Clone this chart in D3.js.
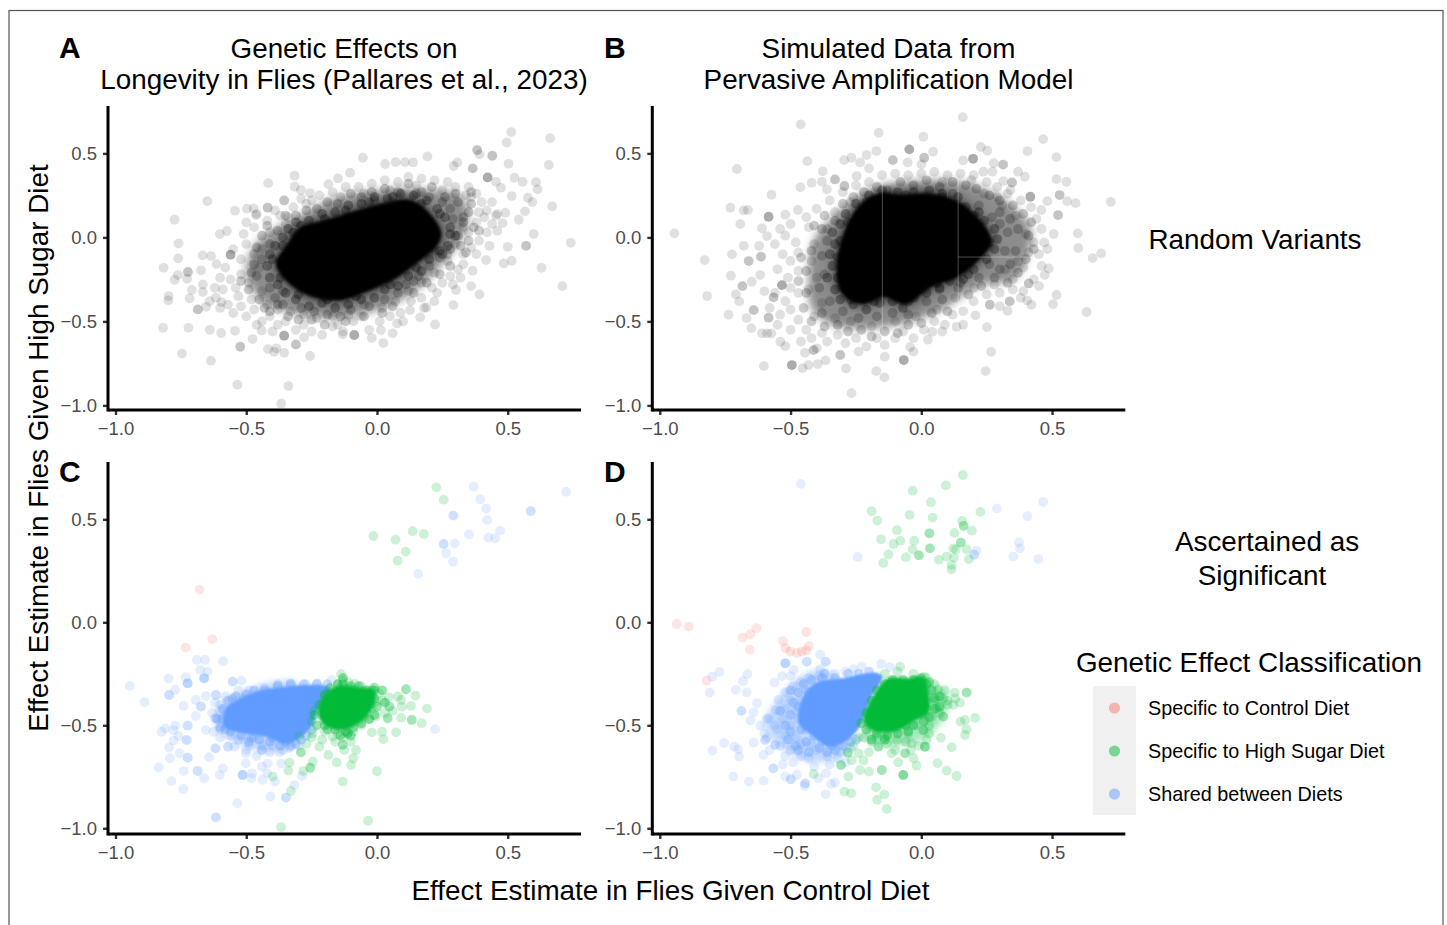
<!DOCTYPE html>
<html><head><meta charset="utf-8">
<style>html,body{margin:0;padding:0;background:#fff}svg{display:block}text{font-family:"Liberation Sans",Arial,sans-serif}</style>
<script src="https://cdn.jsdelivr.net/npm/d3@7"></script></head><body>
<script>
// ---------- values (effect on control diet, effect on high sugar diet) ----------
const xTicks=[-1,-0.5,0,0.5], yTicks=[-1,-0.5,0,0.5];
const classNames=["Specific to Control Diet","Specific to High Sugar Diet","Shared between Diets"];
const titleA=["Genetic Effects on","Longevity in Flies (Pallares et al., 2023)"];
const titleB=["Simulated Data from","Pervasive Amplification Model"];
const rowLabels=[["Random Variants"],["Ascertained as","Significant"]];

// estimated outlines of the saturated regions where points overlap completely
const coreA=[[-.386,-.155],[-.348,-.056],[-.297,.054],[-.195,.103],[-.093,.153],[.022,.202],[.124,.222],[.2,.143],[.245,.024],[.226,-.056],[.149,-.155],[.06,-.254],[-.042,-.323],[-.144,-.373],[-.246,-.353],[-.335,-.274]];
const bandA=[[-.5,-.214],[-.47,-.056],[-.38,.06],[-.28,.14],[-.17,.23],[-.042,.27],[.085,.29],[.213,.28],[.32,.25],[.35,.13],[.32,-.016],[.24,-.175],[.17,-.29],[.06,-.4],[-.068,-.46],[-.195,-.48],[-.348,-.44],[-.44,-.38]];
const coreB=[[-.291,.044],[-.323,-.175],[-.304,-.333],[-.228,-.397],[-.139,-.353],[-.062,-.397],[.039,-.294],[.141,-.234],[.205,-.155],[.268,-.036],[.256,.034],[.205,.133],[.129,.222],[.027,.262],[-.075,.252],[-.164,.262],[-.24,.183]];
const bandB=[[-.43,-.214],[-.41,-.016],[-.34,.12],[-.25,.23],[-.139,.31],[.027,.34],[.154,.33],[.268,.27],[.36,.17],[.42,.044],[.4,-.135],[.35,-.25],[.218,-.29],[.09,-.42],[-.037,-.5],[-.19,-.54],[-.342,-.52],[-.42,-.42]];
const seamsB=[[[-.149,.34],[-.149,-.56]],[[.141,.34],[.141,-.6]],[[.141,-.117],[.434,-.117]]];

const pointsA=[[.513,.627],[.496,.565],[.662,.591],[.657,.431],[.503,.438],[.383,.52],[.383,.52],[.392,.494],[.441,.486],[.441,.486],[.307,.446],[.293,.425],[.366,.411],[.366,.411],[.193,.482],[.138,.446],[.107,.448],[.071,.448],[.031,.437],[-.054,.474],[-.103,.385],[-.149,.351],[-.186,.317],[-.315,.367],[-.315,.302],[-.416,.323],[-.291,.282],[-.256,.264],[-.355,.22],[-.355,.22],[-.649,.216],[-.543,.159],[-.497,.171],[-.472,.173],[-.463,.133],[-.418,.177],[-.418,.177],[-.774,.105],[-.601,.02],[-.574,.038],[-.759,-.036],[-.76,-.125],[-.816,-.181],[-.774,-.252],[-.761,-.224],[-.723,-.206],[-.723,-.206],[-.726,-.246],[-.673,-.196],[-.667,-.107],[-.635,-.111],[-.56,-.103],[-.56,-.103],[-.56,-.103],[-.614,-.159],[-.797,-.349],[-.798,-.375],[-.708,-.313],[-.717,-.363],[-.666,-.28],[-.666,-.325],[-.685,-.429],[-.685,-.429],[-.654,-.413],[-.616,-.359],[-.595,-.385],[-.818,-.538],[-.721,-.538],[-.639,-.55],[-.596,-.569],[-.543,-.556],[-.746,-.692],[-.635,-.734],[-.534,-.877],[-.339,-.885],[-.366,-.99],[-.523,-.651],[-.523,-.651],[-.476,-.605],[-.417,-.665],[-.393,-.681],[-.385,-.66],[-.355,-.687],[-.256,-.706],[-.31,-.637],[-.31,-.637],[-.279,-.595],[-.355,-.585],[-.355,-.585],[-.355,-.585],[-.441,-.554],[-.131,-.577],[-.087,-.581],[-.087,-.581],[-.087,-.581],[-.02,-.599],[.024,-.629],[.015,-.552],[.06,-.571],[.077,-.512],[.165,-.476],[.222,-.518],[.126,-.433],[.189,-.417],[.292,-.403],[.219,-.381],[.392,-.339],[.36,-.29],[.302,-.313],[.319,-.24],[.366,-.198],[.417,-.135],[.485,-.155],[.515,-.139],[.629,-.181],[.709,-.29],[.741,-.032],[.67,.185],[.599,.02],[.57,-.05],[.57,-.05],[.5,-.056],[.542,.105],[.566,.155],[.594,.21],[.614,.286],[.608,.329],[.557,.331],[.526,.355],[.577,.236],[.515,.246],[.474,.296],[.455,.331],[.423,.357],[.423,.357],[.423,.357],[.491,.147],[.455,.129],[.48,.085],
[-.62,-.3],[-.6,-.24],[-.58,-.18],[-.56,-.25],[-.54,-.3],[-.52,-.22],[-.53,-.35],[-.57,-.4],[-.6,-.42],[-.55,-.45],[-.5,-.47],[-.47,-.43],[-.44,-.5],[-.41,-.47],[-.38,-.52],[-.35,-.5],[-.31,-.55],[-.28,-.52],[-.25,-.56],[-.21,-.58],[-.17,-.53],[-.13,-.56],[-.09,-.5],[-.06,-.47],[-.03,-.55],[.01,-.5],[.05,-.47],[.09,-.45],[.13,-.38],[.17,-.36],[.21,-.3],[.25,-.27],[.28,-.23],[.31,-.19],[.27,-.14],[.33,-.1],[.36,-.06],[.39,-.02],[.42,.03],[.44,.08],[.46,.14],[.42,.16],[.4,.21],[.38,.26],[.35,.3],[.3,.3],[.27,.33],[.22,.34],[.17,.35],[.12,.36],[.08,.33],[.03,.34],[-.02,.32],[-.07,.3],[-.12,.3],[-.17,.27],[-.22,.25],[-.27,.2],[-.32,.18],[-.37,.13],[-.42,.1],[-.47,.06],[-.51,.02],[-.5,-.04],[-.55,-.07],[-.47,-.1],[-.52,-.13],[-.45,-.18],[-.49,-.27],[-.44,-.32],[-.48,-.37],[-.42,-.4],[-.38,-.43],[-.33,-.44],[-.28,-.46],[-.23,-.48],[-.17,-.47],[-.11,-.46],[-.05,-.4],[.02,-.42],[.07,-.38],[.12,-.32],[.17,-.27],[.22,-.21],[.27,-.1],[.3,-.04],[.35,.03],[.38,.09],[.39,.15],[.34,.25],[.25,.28],[.15,.31],[.05,.28],[-.05,.26],[-.14,.24],[-.25,.22],[-.35,.08],[-.41,.03],[-.44,-.07],[.33,.06],[.36,.24],[.41,.12],[.44,.21],[.46,.04],[.43,-.05],[.38,-.1],[.33,-.16],[.29,-.28],[.23,-.33],[.18,-.42],[.1,-.5],[-.15,-.52],[-.4,-.56],[-.46,-.52],[-.52,-.41],[-.59,-.31],[-.64,-.38],[-.5,.09],[-.46,.14],[-.39,.16],[-.34,.12],[-.29,.23]];
// places in the band where several points stack into a darker clump
const clumpsA=[[-.52,-.26],[-.49,-.31],[-.46,-.23],[-.44,-.13],[-.47,-.16],[-.41,-.3],[-.45,-.37],[-.39,-.36],[-.36,-.4],[-.41,-.44],[-.34,-.47],[-.29,-.42],[-.3,-.49],[-.24,-.44],[-.2,-.52],[-.19,-.46],[-.14,-.47],[-.1,-.43],[-.12,-.5],[-.05,-.47],[-.03,-.41],[.02,-.45],[.03,-.37],[.08,-.33],[.06,-.41],[.11,-.28],[.14,-.33],[.16,-.23],[.19,-.27],[.2,-.17],[.24,-.22],[.24,-.12],[.28,-.17],[.28,-.07],[.32,-.05],[.31,.01],[.35,-.02],[.33,.09],[.37,.06],[.35,.15],[.31,.21],[.36,.2],[.3,.26],[.26,.24],[.21,.3],[.17,.27],[.12,.32],[.08,.27],[.03,.29],[-.02,.27],[-.06,.24],[-.1,.26],[-.15,.2],[-.19,.21],[-.23,.17],[-.27,.16],[-.31,.13],[-.35,.13],[-.38,.04],[-.42,.07],[-.44,.01],[-.41,-.04],[-.46,-.06],[-.48,-.21],[.36,.27],[.33,.12],[.29,.11],[.28,.17],[.25,.21],[.2,.24],[.15,.26],[-.01,.22],[-.38,-.4],[-.43,-.42],[-.36,-.32],[-.25,-.49],[.14,-.26],[.22,-.08],[.34,-.09],[.39,.04]];
const edgeA=[[-.42,-.17],[-.41,-.1],[-.39,-.05],[-.36,0],[-.34,.05],[-.31,.09],[-.26,.1],[-.21,.14],[-.16,.15],[-.11,.19],[-.06,.2],[-.01,.24],[.04,.23],[.09,.26],[.14,.25],[.19,.22],[.23,.17],[.26,.12],[.28,.06],[.3,.01],[.27,-.05],[.25,-.1],[.2,-.13],[.17,-.2],[.12,-.23],[.08,-.29],[.03,-.31],[-.01,-.36],[-.06,-.37],[-.11,-.4],[-.16,-.42],[-.21,-.39],[-.26,-.41],[-.31,-.37],[-.35,-.33],[-.38,-.28],[-.41,-.24],[-.4,-.13],[-.36,-.05],[-.32,.03],[-.29,.07],[-.2,.11],[-.12,.16],[-.03,.21],[.06,.24],[.17,.2],[.24,.14],[.28,.02],[.24,-.08],[.15,-.18],[.05,-.28],[-.08,-.35],[-.19,-.37],[-.3,-.34],[-.37,-.24]];

const pointsB=[[-.944,.024],[-.828,-.135],[-.819,-.349],[-.737,-.46],[-.728,-.228],[-.724,-.101],[-.692,.079],[-.73,.177],[-.705,.407],[-.679,.161],[-.663,.163],[-.573,.254],[-.584,.123],[-.584,.123],[-.584,.123],[-.461,.673],[-.436,.454],[-.462,.298],[-.377,.393],[-.33,.345],[-.33,.345],[-.295,.46],[-.267,.474],[-.234,.446],[-.209,.49],[-.172,.514],[-.163,.623],[-.109,.46],[-.109,.46],[.008,.599],[.045,.51],[-.046,.524],[-.046,.524],[-.046,.524],[-.052,.446],[.011,.474],[.011,.474],[.001,.435],[.159,.716],[.16,.458],[.198,.468],[.198,.468],[.198,.468],[.228,.538],[.252,.516],[.277,.442],[.313,.433],[.313,.433],[.466,.585],[.406,.514],[.517,.478],[.517,.347],[.555,.331],[.529,.252],[.529,.252],[.59,.204],[.558,.216],[.725,.212],[.598,.024],[.6,-.063],[.655,-.123],[.688,-.095],[.632,-.444],[.517,-.343],[.504,-.397],[.405,-.375],[.421,-.401],[.338,-.381],[.338,-.381],[.33,-.437],[.262,-.401],[.262,-.401],[.251,-.534],[.267,-.681],[.246,-.796],[.207,-.464],[.135,-.532],[.025,-.609],[.042,-.562],[-.043,-.653],[-.067,-.73],[-.067,-.73],[-.067,-.73],[-.141,-.833],[-.172,-.796],[-.267,-.927],[-.288,-.78],[-.31,-.7],[-.31,-.7],[-.366,-.732],[-.396,-.754],[-.431,-.76],[-.454,-.778],[-.495,-.76],[-.495,-.76],[-.495,-.76],[-.602,-.766],[-.412,-.671],[-.412,-.671],[-.445,-.687],[-.52,-.647],[-.539,-.621],[-.609,-.571],[-.59,-.571],[-.574,-.571],[-.65,-.54],[-.668,-.48],[-.584,-.478],[-.584,-.478],[-.641,-.433],[-.641,-.433],[-.684,-.29],[-.684,-.29],[-.648,-.264],[-.709,-.339],[-.696,-.381],[-.679,-.05],[-.613,-.115],[-.613,-.115],[-.66,-.141],[-.66,-.141],[-.616,-.224],[-.533,-.284],[-.533,-.284],[-.533,-.284],[-.565,-.357],[-.565,-.357],[-.609,.054],[-.59,.008],[-.52,.135],[-.472,.163],[-.419,.325],[-.38,.331],[-.361,.286],[-.294,.306],[-.294,.306],[-.247,.365],[-.2,.411],[.482,.216],[.459,.163],[.523,.133],[.523,.133],[.506,.02],[.482,-.069],[.487,-.185],[.472,-.224],[.411,-.274],[.411,-.274],[.417,.242],[.417,.242],[.417,.242],[.347,.327],[.347,.327],[.341,.282],[.396,.361],[.37,.391],[.237,.391],[.272,.391],[.192,.341],[.314,.335],
[-.56,-.04],[-.54,.05],[-.52,.01],[-.5,.08],[-.48,-.03],[-.53,-.1],[-.5,-.14],[-.47,-.09],[-.55,-.19],[-.51,-.24],[-.47,-.2],[-.5,-.3],[-.56,-.33],[-.52,-.38],[-.47,-.33],[-.5,-.43],[-.54,-.46],[-.47,-.49],[-.5,-.55],[-.44,-.55],[-.42,-.6],[-.38,-.57],[-.36,-.62],[-.32,-.58],[-.29,-.63],[-.25,-.6],[-.21,-.65],[-.17,-.6],[-.14,-.64],[-.1,-.6],[-.07,-.56],[-.03,-.6],[.01,-.55],[.05,-.5],[.09,-.52],[.12,-.46],[.16,-.44],[.2,-.38],[.25,-.34],[.3,-.33],[.35,-.31],[.39,-.32],[.43,-.25],[.46,-.17],[.45,-.1],[.47,-.03],[.46,.05],[.44,.11],[.42,.18],[.38,.22],[.33,.26],[.29,.3],[.25,.33],[.2,.37],[.15,.38],[.1,.37],[.05,.39],[0,.38],[-.05,.37],[-.1,.38],[-.15,.37],[-.2,.33],[-.25,.31],[-.3,.27],[-.35,.22],[-.4,.17],[-.44,.12],[-.43,.06],[-.41,-.04],[-.42,-.14],[-.4,-.24],[-.43,-.31],[-.38,-.39],[-.41,-.47],[-.33,-.48],[-.27,-.5],[-.19,-.53],[-.1,-.5],[-.02,-.47],[.06,-.43],[.13,-.36],[.2,-.3],[.28,-.28],[.35,-.25],[.39,-.18],[.41,-.09],[.37,-.14],[.32,-.19],[.4,.02],[.36,.13],[.31,.19],[.24,.26],[.43,-.03],[.29,.24],[-.36,.05],[-.33,.15],[-.27,.21],[.08,.33],[-.62,-.05],[-.6,-.32],[-.58,-.42],[-.55,-.52],[-.46,-.62],[-.4,-.66],[-.24,-.68],[-.14,-.71],[-.03,-.68],[.08,-.56],[.16,-.52],[.3,-.41],[.45,-.29],[.38,-.36]];
const clumpsB=[[-.46,-.12],[-.44,-.2],[-.47,-.26],[-.44,-.33],[-.45,-.42],[-.42,-.5],[-.38,-.45],[-.37,-.53],[-.32,-.52],[-.28,-.56],[-.23,-.55],[-.19,-.59],[-.14,-.56],[-.09,-.57],[-.05,-.52],[0,-.51],[.04,-.45],[.1,-.44],[.08,-.37],[.14,-.3],[.18,-.34],[.23,-.29],[.28,-.24],[.33,-.27],[.37,-.21],[.4,-.13],[.36,-.08],[.43,-.07],[.41,.01],[.37,.05],[.42,.09],[.39,.14],[.34,.11],[.35,.19],[.3,.15],[.3,.22],[.26,.25],[.22,.19],[.21,.29],[.17,.31],[.12,.26],[.12,.33],[.07,.3],[.02,.34],[-.03,.31],[-.08,.33],[-.13,.28],[-.17,.3],[-.22,.27],[-.26,.24],[-.3,.2],[-.33,.1],[-.37,.13],[-.38,.05],[-.41,.07],[-.36,-.02],[-.42,-.08],[-.38,-.11],[-.37,-.22],[-.39,-.3],[-.35,-.38],[-.3,-.44],[-.24,-.48],[-.17,-.47],[-.11,-.45],[-.05,-.46],[.02,-.38],[.07,-.31],[.15,-.27],[.22,-.24],[.3,-.19],[.34,-.16],[.26,-.16],[.32,-.08],[.33,.03],[.3,.08],[.27,.12]];
const edgeB=[[-.34,.03],[-.33,-.04],[-.35,-.1],[-.34,-.17],[-.36,-.24],[-.33,-.31],[-.31,-.37],[-.26,-.4],[-.21,-.43],[-.16,-.39],[-.11,-.38],[-.07,-.42],[-.03,-.36],[.02,-.33],[.07,-.3],[.11,-.26],[.16,-.25],[.2,-.19],[.25,-.13],[.28,-.07],[.29,-.01],[.28,.05],[.24,.1],[.22,.15],[.17,.18],[.14,.24],[.08,.26],[.03,.28],[-.03,.27],[-.09,.27],[-.15,.28],[-.2,.25],[-.25,.2],[-.29,.14],[-.31,.08],[-.31,-.02],[-.32,-.12],[-.32,-.24],[-.27,-.37],[-.18,-.38],[-.05,-.38],[.06,-.27],[.18,-.22],[.26,-.03],[.2,.13],[.08,.24],[-.06,.25],[-.21,.21],[-.28,.09]];

const sharedC=[[.37,.659],[.395,.597],[.417,.552],[.421,.497],[.723,.634],[.588,.54],[.588,.54],[.292,.518],[.292,.518],[.471,.445],[.452,.408],[.426,.411],[.352,.427],[.297,.383],[.255,.38],[.255,.38],[.264,.335],[.291,.294],[.158,.235],[-.945,-.309],[-.889,-.388],[-.689,-.183],[-.658,-.183],[-.589,-.189],[-.676,-.231],[-.648,-.239],[-.661,-.272],[-.661,-.272],[-.661,-.272],[-.797,-.273],[-.731,-.267],[-.724,-.296],[-.724,-.296],[-.724,-.296],[-.772,-.328],[-.795,-.353],[-.795,-.353],[-.693,-.377],[-.654,-.358],[-.74,-.406],[-.673,-.409],[-.673,-.409],[-.693,-.455],[-.724,-.502],[-.724,-.502],[-.772,-.502],[-.81,-.515],[-.824,-.531],[-.779,-.523],[-.759,-.552],[-.728,-.571],[-.728,-.571],[-.779,-.574],[-.795,-.608],[-.755,-.636],[-.724,-.657],[-.724,-.657],[-.792,-.66],[-.642,-.655],[-.835,-.704],[-.739,-.722],[-.686,-.722],[-.686,-.722],[-.786,-.77],[-.741,-.809],[-.661,-.757],[-.589,-.709],[-.601,-.741],[-.534,-.879],[-.616,-.947],[-.616,-.947],[-.408,-.846],[-.348,-.851],[-.348,-.851],[-.316,-.79],[-.514,-.741],[-.514,-.741],[-.514,-.741],[-.48,-.757],[-.438,-.765],[-.39,-.773],[-.287,-.746],[.222,-.519],[-.173,-.28],[-.552,-.288],[-.552,-.288],[-.518,-.283],[-.616,-.353],[-.616,-.353],[-.552,-.37],[-.552,-.37],
[-.618,-.466],[-.618,-.466],[-.625,-.531],[-.655,-.523],[-.618,-.612],[-.618,-.612],[-.57,-.604],[-.57,-.604],[-.545,-.604],[-.489,-.596],[-.502,-.636],[-.502,-.685],[-.478,-.733],[-.42,-.733],[-.418,-.686],[-.366,-.686],[-.372,-.63],[-.41,-.63],[-.335,-.61],[-.62,-.39],[-.63,-.44],[-.6,-.43],[-.6,-.56],[-.6,-.52],[-.56,-.55],[-.53,-.57],[-.47,-.56],[-.44,-.6],[-.4,-.6],[-.36,-.62],[-.3,-.6],[-.5,-.62],[-.46,-.65],[-.44,-.7],[-.53,-.33],[-.49,-.33],[-.43,-.32],[-.38,-.3],[-.33,-.295],[-.27,-.3],[-.23,-.295],[-.58,-.36],[-.6,-.4]];
const edgeSharedC=[[-.61,-.47],[-.59,-.42],[-.57,-.38],[-.54,-.36],[-.5,-.35],[-.47,-.33],[-.43,-.33],[-.38,-.31],[-.33,-.3],[-.28,-.3],[-.23,-.3],[-.19,-.3],[-.6,-.51],[-.56,-.53],[-.52,-.55],[-.48,-.56],[-.45,-.57],[-.41,-.58],[-.37,-.6],[-.33,-.6],[-.29,-.57],[-.25,-.52],[-.59,-.47],[-.57,-.49],[-.55,-.42],[-.51,-.37],[-.49,-.58],[-.44,-.62],[-.4,-.56],[-.35,-.58],[-.31,-.59],[-.27,-.55],[-.58,-.52]];
const highSugarC=[[.227,.655],[.255,.595],[-.014,.419],[.071,.401],[.136,.442],[.179,.429],[.11,.343],[.079,.299],[-.138,-.252],[-.131,-.283],[-.085,-.299],[-.01,-.317],[-.01,-.317],[.045,-.364],[.111,-.325],[.111,-.325],[.147,-.356],[.092,-.377],[.047,-.409],[.047,-.409],[.13,-.406],[.191,-.419],[.092,-.463],[.133,-.474],[.133,-.474],[.171,-.49],[.041,-.466],[.041,-.466],[.073,-.534],[-.02,-.534],[.019,-.531],[.024,-.568],[-.08,-.62],[-.091,-.66],[-.099,-.693],[-.154,-.68],[0,-.723],[-.131,-.773],[-.034,-.963],[-.367,-.994],[-.329,-.819],[-.399,-.749],[-.339,-.72],[-.335,-.681],[-.246,-.676],[-.255,-.706],[-.255,-.706],[-.282,-.722],[-.291,-.631],[-.291,-.631],[-.186,-.644],[-.221,-.604],[-.125,-.62],[-.131,-.595],[-.131,-.595],[-.112,-.539],[-.112,-.539],[-.112,-.539],[-.17,-.555],[-.246,-.539],[-.297,-.555],[-.004,-.458],[-.05,-.458],[.009,-.345],[-.003,-.385],[.08,-.36],[.06,-.43],[.095,-.41],[.03,-.44],[.02,-.38],[-.02,-.42],[-.02,-.33],[-.06,-.31],[-.11,-.29],[-.15,-.3],[-.2,-.36],[-.24,-.43],[-.25,-.48],[-.2,-.53],[-.15,-.54],[-.09,-.53],[-.06,-.5],[-.03,-.47],[-.16,-.58],[-.21,-.57],[-.25,-.56],[-.27,-.59],[-.1,-.58],[-.13,-.56]];
const edgeSugarC=[[-.2,-.35],[-.18,-.32],[-.15,-.3],[-.13,-.3],[-.1,-.31],[-.07,-.31],[-.04,-.33],[-.01,-.33],[-.01,-.37],[0,-.41],[-.01,-.45],[-.03,-.47],[-.06,-.49],[-.09,-.51],[-.12,-.53],[-.16,-.52],[-.19,-.52],[-.23,-.5],[-.24,-.45],[-.22,-.4],[-.13,-.27],[.02,-.33],[.03,-.39],[-.2,-.5],[-.1,-.55],[-.14,-.55]];
const controlC=[[-.679,.159],[-.63,-.083],[-.732,-.123]];
const coreSharedC=[[-.584,-.506],[-.578,-.417],[-.514,-.364],[-.463,-.337],[-.348,-.312],[-.195,-.309],[-.176,-.328],[-.227,-.426],[-.246,-.498],[-.297,-.563],[-.348,-.591],[-.425,-.555],[-.514,-.539]];
const coreHighSugarC=[[-.227,-.434],[-.195,-.345],[-.144,-.305],[-.068,-.315],[-.01,-.33],[-.01,-.4],[-.04,-.46],[-.08,-.5],[-.131,-.525],[-.2,-.5]];

const sharedD=[[-.461,.672],[.466,.584],[.289,.553],[.406,.515],[-.243,.317],[.211,.348],[.202,.328],[.202,.328],[.373,.388],[.377,.359],[.352,.319],[.447,.307],[-.772,-.241],[-.8,-.264],[-.809,-.341],[-.665,-.252],[-.682,-.286],[-.709,-.328],[-.668,-.34],[-.628,-.393],[-.641,-.437],[-.688,-.43],[-.688,-.43],[-.653,-.477],[-.616,-.502],[-.59,-.471],[-.754,-.586],[-.799,-.623],[-.715,-.604],[-.7,-.617],[-.697,-.652],[-.641,-.584],[-.603,-.644],[-.597,-.571],[-.597,-.571],[-.559,-.595],[-.559,-.595],[-.566,-.709],[-.566,-.709],[-.719,-.749],[-.659,-.773],[-.603,-.769],[-.52,-.749],[-.499,-.762],[-.499,-.762],[-.476,-.741],[-.444,-.782],[-.444,-.782],[-.446,-.795],[-.393,-.757],[-.365,-.733],[-.33,-.778],[-.345,-.785],[-.365,-.835],[-.387,-.157],[-.438,-.191],[-.438,-.191],[-.366,-.191],[-.366,-.191],[-.387,-.227],[-.52,-.199],[-.52,-.199],[-.52,-.199],[-.488,-.231],[-.533,-.261],[-.562,-.293],[-.26,-.228],[-.228,-.215],[-.154,-.202],[-.12,-.218],[-.546,-.377],[-.556,-.426],[-.584,-.466],[-.5,-.26],[-.49,-.31],[-.52,-.34],[-.5,-.38],[-.52,-.42],[-.48,-.43],[-.53,-.47],[-.5,-.5],[-.56,-.5],[-.52,-.55],[-.48,-.56],[-.54,-.6],[-.5,-.62],[-.46,-.59],[-.46,-.65],[-.49,-.68],[-.43,-.66],[-.4,-.62],[-.36,-.65],[-.35,-.69],[-.32,-.66],[-.41,-.7],[-.46,-.29],[-.43,-.27],[-.39,-.26],[-.33,-.25],[-.29,-.24],[-.44,-.33],[-.46,-.38],[-.27,-.61],[-.31,-.63],[-.42,-.59],[-.44,-.52],[-.6,-.54],[-.58,-.62],[-.55,-.52],[-.52,-.65],[-.38,-.58],[-.47,-.47],[-.43,-.43],[-.59,-.56],[-.53,-.69],[-.29,-.68]];
const edgeSharedD=[[-.5,-.45],[-.49,-.39],[-.47,-.34],[-.45,-.3],[-.42,-.28],[-.38,-.27],[-.33,-.27],[-.28,-.25],[-.24,-.25],[-.2,-.24],[-.52,-.5],[-.51,-.57],[-.48,-.6],[-.44,-.58],[-.43,-.63],[-.39,-.61],[-.36,-.63],[-.33,-.62],[-.3,-.6],[-.27,-.58],[-.46,-.52],[-.47,-.41],[-.43,-.34],[-.41,-.55],[-.54,-.43],[-.5,-.53],[-.47,-.62],[-.34,-.6],[-.5,-.33],[-.37,-.25],[-.25,-.57]];
const highSugarD=[[.159,.715],[.094,.665],[-.033,.639],[.037,.583],[-.19,.539],[-.168,.494],[-.045,.521],[.043,.508],[.226,.536],[.156,.492],[.162,.468],[.162,.468],[.193,.445],[.127,.434],[.031,.432],[.031,.432],[-.093,.447],[-.154,.403],[-.08,.396],[-.106,.38],[-.027,.396],[.151,.387],[.151,.387],[-.033,.354],[.033,.359],[.033,.359],[.122,.359],[.132,.354],[.173,.354],[-.126,.33],[-.059,.316],[-.009,.325],[-.009,.325],[.067,.304],[.097,.319],[.125,.314],[.182,.307],[-.145,.288],[.116,.278],[.115,.257],[-.081,-.215],[.011,-.264],[.065,-.328],[.128,-.341],[.173,-.341],[.173,-.341],[.148,-.39],[.122,-.401],[.084,-.369],[.059,-.417],[.084,-.458],[.084,-.458],[.15,-.482],[.167,-.474],[.206,-.464],[.173,-.519],[.167,-.547],[.075,-.561],[.008,-.524],[.008,-.524],[.014,-.604],[.014,-.604],[.014,-.604],[.116,-.607],[.062,-.684],[.097,-.72],[.135,-.746],[-.018,-.696],[-.03,-.66],[-.062,-.636],[-.062,-.636],[-.069,-.741],[-.069,-.741],[-.069,-.741],[-.088,-.68],[-.113,-.636],[-.151,-.717],[-.151,-.717],[-.2,-.725],[-.234,-.717],[-.221,-.67],[-.266,-.67],[-.307,-.693],[-.307,-.693],[-.279,-.749],[-.294,-.822],[-.268,-.83],[-.173,-.801],[-.141,-.835],[-.169,-.862],[-.132,-.906],[-.412,-.736],[-.164,-.604],[-.164,-.604],[-.24,-.636],[-.281,-.633],[-.281,-.633],[-.037,-.587],[-.094,-.571],[-.14,-.56],[-.19,-.58],[-.22,-.56],[-.1,-.62],[-.05,-.54],[.03,-.5],[.05,-.38],[.09,-.33],[.05,-.3],[.02,-.27],[-.03,-.25],[-.09,-.24],[-.14,-.25],[.04,-.46],[.1,-.4],[.07,-.44],[-.02,-.5],[-.06,-.58],[-.13,-.59],[-.17,-.56],[-.2,-.63],[-.26,-.6],[-.24,-.56],[.1,-.38],[.13,-.37],[.03,-.54],[.02,-.57],[-.01,-.6],[-.04,-.62]];
const edgeSugarD=[[-.21,-.44],[-.19,-.38],[-.17,-.33],[-.14,-.3],[-.11,-.28],[-.07,-.28],[-.03,-.28],[0,-.27],[.02,-.3],[.04,-.33],[.05,-.37],[.05,-.42],[.03,-.46],[.01,-.48],[-.03,-.5],[-.06,-.5],[-.09,-.54],[-.13,-.55],[-.17,-.54],[-.21,-.52],[-.23,-.49],[.07,-.36],[.07,-.41],[.03,-.29],[-.14,-.57],[-.05,-.53],[-.19,-.57]];
const controlD=[[-.935,-.008],[-.889,-.021],[-.631,-.029],[-.654,-.058],[-.684,-.074],[-.656,-.134],[-.529,-.091],[-.44,-.047],[-.43,-.115],[-.519,-.126],[-.501,-.142],[-.476,-.149],[-.457,-.142],[-.44,-.136],[-.821,-.283]];
const coreSharedD=[[-.469,-.49],[-.457,-.377],[-.406,-.296],[-.304,-.272],[-.177,-.244],[-.149,-.264],[-.19,-.361],[-.215,-.442],[-.24,-.515],[-.291,-.579],[-.355,-.604],[-.419,-.547]];
const coreHighSugarD=[[-.221,-.474],[-.177,-.345],[-.126,-.272],[-.05,-.272],[.008,-.264],[.029,-.345],[.027,-.442],[-.031,-.482],[-.101,-.531],[-.19,-.523]];
// estimated outlines of the partly overlapping zones around the solid regions
const bandSharedC=[[-.62,-.5],[-.6,-.4],[-.5,-.33],[-.4,-.29],[-.3,-.3],[-.3,-.58],[-.4,-.63],[-.55,-.58]];
const bandSharedD=[[-.6,-.5],[-.54,-.36],[-.47,-.27],[-.38,-.23],[-.3,-.3],[-.28,-.62],[-.38,-.68],[-.5,-.64]];
const bandSugarD=[[-.22,-.56],[-.1,-.6],[.03,-.55],[.1,-.42],[.09,-.33],[.02,-.3],[-.05,-.4],[-.2,-.45]];

// ---------- layout ----------
const W=1447,H=925;
const colorShared="#619CFF",colorSugar="#00BA38",colorControl="#F8766D";
const svg=d3.select("body").append("svg").attr("width",W).attr("height",H);
svg.append("rect").attr("x",9).attr("y",10.5).attr("width",1434).attr("height",H).attr("fill","none").attr("stroke","#555").attr("stroke-width",1.2);
const defs=svg.append("defs");
[["b2",1.8],["b4",4],["b7",7],["b1",.8],["b3",3]].forEach(([id,s])=>defs.append("filter").attr("id",id).attr("x","-20%").attr("y","-20%").attr("width","140%").attr("height","140%").append("feGaussianBlur").attr("stdDeviation",s));

const panels=[
 {id:"A",x0:377,top:106,bottom:410,y0:237.4,yk:168},
 {id:"B",x0:921.3,top:106,bottom:410,y0:237.4,yk:168},
 {id:"C",x0:377,top:462,bottom:834,y0:622.3,yk:206},
 {id:"D",x0:921.3,top:462,bottom:834,y0:622.3,yk:206}];
const XK=261.5;
function setup(p){
 const x=d3.scaleLinear().domain([-1,0.5]).range([p.x0-XK,p.x0+XK*0.5]);
 const y=d3.scaleLinear().domain([-1,0.5]).range([p.y0+p.yk,p.y0-p.yk*0.5]);
 const left=p.x0-269, right=p.x0+204;
 const g=svg.append("g");
 return {x,y,g,left,right,p};
}
function dots(c,data,col,op,r){
 c.g.append("g").selectAll("circle").data(data).join("circle")
  .attr("cx",d=>c.x(d[0])).attr("cy",d=>c.y(d[1])).attr("r",r||4.9).attr("fill",col).attr("fill-opacity",op);
}
function region(c,data,col,op,filter){
 c.g.append("path").attr("d",d3.line().x(d=>c.x(d[0])).y(d=>c.y(d[1])).curve(d3.curveCatmullRomClosed)(data))
  .attr("fill",col).attr("fill-opacity",op).attr("filter",filter);
}
function axes(c){
 const {x,y,p}=c;
 const ax=d3.axisBottom(x).tickValues(xTicks).tickFormat(d3.format(".1f")).tickSize(5).tickPadding(6.5);
 const ay=d3.axisLeft(y).tickValues(yTicks).tickFormat(d3.format(".1f")).tickSize(5).tickPadding(6);
 const gx=svg.append("g").attr("transform",`translate(0,${p.bottom})`).call(ax);
 const gy=svg.append("g").attr("transform",`translate(${c.left},0)`).call(ay);
 [gx,gy].forEach(g=>{g.select(".domain").remove();g.selectAll("line").attr("stroke","#333").attr("stroke-width",2.4);
   g.selectAll("text").attr("fill","#4d4d4d").attr("font-size",18.5);});
 svg.append("line").attr("x1",c.left).attr("x2",c.left).attr("y1",p.top).attr("y2",p.bottom+1.6).attr("stroke","#000").attr("stroke-width",3);
 svg.append("line").attr("x1",c.left).attr("x2",c.right).attr("y1",p.bottom).attr("y2",p.bottom).attr("stroke","#000").attr("stroke-width",3);
}
const [cA,cB,cC,cD]=panels.map(setup);

// A
region(cA,bandA,"#000",.45,"url(#b4)");
dots(cA,pointsA,"#000",.12);
dots(cA,clumpsA,"#000",.2);
region(cA,coreA,"#000",1,"url(#b7)");
dots(cA,edgeA,"#000",.3);
region(cA,coreA,"#000",1,"url(#b2)");
// B
region(cB,bandB,"#000",.45,"url(#b4)");
dots(cB,pointsB,"#000",.12);
dots(cB,clumpsB,"#000",.2);
region(cB,coreB,"#000",1,"url(#b7)");
dots(cB,edgeB,"#000",.3);
region(cB,coreB,"#000",1,"url(#b2)");
seamsB.forEach(s=>cB.g.append("line").attr("x1",cB.x(s[0][0])).attr("y1",cB.y(s[0][1])).attr("x2",cB.x(s[1][0])).attr("y2",cB.y(s[1][1])).attr("stroke","#fff").attr("stroke-opacity",.3).attr("stroke-width",1));
// C
region(cC,bandSharedC,colorShared,.4,"url(#b3)");
dots(cC,sharedC,colorShared,.17);
dots(cC,edgeSharedC,colorShared,.35);
region(cC,coreSharedC,colorShared,1,"url(#b1)");
dots(cC,highSugarC,colorSugar,.2);
dots(cC,edgeSugarC,colorSugar,.4);
region(cC,coreHighSugarC,colorSugar,1,"url(#b2)");
dots(cC,controlC,colorControl,.2);
// D
region(cD,bandSharedD,colorShared,.4,"url(#b3)");
dots(cD,sharedD,colorShared,.17);
dots(cD,edgeSharedD,colorShared,.35);
region(cD,coreSharedD,colorShared,1,"url(#b1)");
region(cD,bandSugarD,colorSugar,.35,"url(#b3)");
dots(cD,highSugarD,colorSugar,.2);
dots(cD,edgeSugarD,colorSugar,.4);
region(cD,coreHighSugarD,colorSugar,1,"url(#b2)");
dots(cD,controlD,colorControl,.2);

[cA,cB,cC,cD].forEach(axes);

function txt(s,x,y,size,anchor,weight){return svg.append("text").text(s).attr("x",x).attr("y",y).attr("font-size",size).attr("text-anchor",anchor||"start").attr("font-weight",weight||"normal").attr("fill","#000");}
[["A",59,58],["B",604,58],["C",59,482],["D",604,482]].forEach(([s,x,y])=>txt(s,x,y,30,"start","bold"));
titleA.forEach((s,i)=>txt(s,344,58+i*31,27.85,"middle"));
titleB.forEach((s,i)=>txt(s,888.5,58+i*31,27.85,"middle"));
txt(rowLabels[0][0],1255,249,27.85,"middle");
txt(rowLabels[1][0],1267,551,27.85,"middle");
txt(rowLabels[1][1],1262,585,27.85,"middle");
txt("Effect Estimate in Flies Given Control Diet",670.5,900,27.85,"middle");
svg.append("text").text("Effect Estimate in Flies Given High Sugar Diet").attr("transform","translate(48,448) rotate(-90)").attr("text-anchor","middle").attr("font-size",27.85);
txt("Genetic Effect Classification",1249,672,27.85,"middle");
svg.append("rect").attr("x",1093).attr("y",686).attr("width",43).attr("height",129).attr("fill","#f0f0f0");
const legendColors=[colorControl,colorSugar,colorShared];
classNames.forEach((s,i)=>{
 svg.append("circle").attr("cx",1114.5).attr("cy",708+i*43).attr("r",5.6).attr("fill",legendColors[i]).attr("fill-opacity",.5);
 txt(s,1148,715+i*43,19.8);
});
</script></body></html>
